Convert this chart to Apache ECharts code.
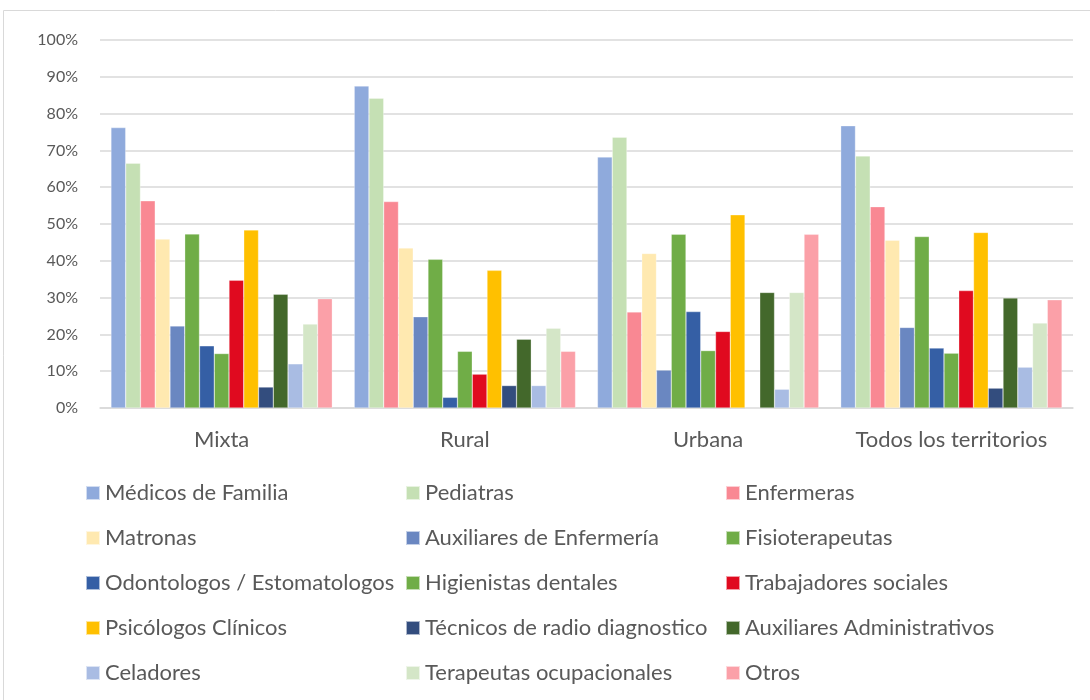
<!DOCTYPE html>
<html><head><meta charset="utf-8">
<script src="https://cdn.jsdelivr.net/npm/echarts@6/dist/echarts.min.js"></script>
<style>html,body{margin:0;padding:0;background:#fff}#c{width:1090px;height:700px}</style>
</head><body><div id="c"></div>
<script>
const categories = ['Mixta', 'Rural', 'Urbana', 'Todos los territorios'];
const seriesNames = ['Médicos de Familia','Pediatras','Enfermeras','Matronas','Auxiliares de Enfermería','Fisioterapeutas','Odontologos / Estomatologos','Higienistas dentales','Trabajadores sociales','Psicólogos Clínicos','Técnicos de radio diagnostico','Auxiliares Administrativos','Celadores','Terapeutas ocupacionales','Otros'];
const medicos      = [76.2, 87.5, 68.2, 76.7];
const pediatras    = [66.5, 84.2, 73.6, 68.5];
const enfermeras   = [56.3, 56.1, 26.1, 54.7];
const matronas     = [45.9, 43.5, 42.0, 45.6];
const auxEnf       = [22.3, 24.8, 10.3, 21.9];
const fisio        = [47.3, 40.4, 47.2, 46.6];
const odonto       = [16.9, 2.9, 26.2, 16.3];
const higienistas  = [14.8, 15.4, 15.6, 14.9];
const trabajadores = [34.7, 9.2, 20.8, 31.9];
const psicologos   = [48.4, 37.4, 52.5, 47.7];
const tecnicos     = [5.7, 6.1, 0, 5.4];
const auxAdmin     = [30.9, 18.7, 31.4, 29.9];
const celadores    = [12.0, 6.1, 5.1, 11.1];
const terapeutas   = [22.8, 21.7, 31.4, 23.1];
const otros        = [29.7, 15.4, 47.2, 29.4];
const yTicks = [0,10,20,30,40,50,60,70,80,90,100];

const values = [medicos,pediatras,enfermeras,matronas,auxEnf,fisio,odonto,higienistas,trabajadores,psicologos,tecnicos,auxAdmin,celadores,terapeutas,otros];
const colors = ['#8FAADC','#C5E0B4','#F98893','#FFE9B0','#6A87C1','#70AD47','#355FA5','#70AD47','#E00A1F','#FFC000','#334D7E','#43682B','#A9BCE3','#D4E6C7','#FBA0A8'];

const font = 'Lato, "Open Sans", sans-serif';
const chart = echarts.init(document.getElementById('c'));
const legendCol = (i, left) => ({
  orient: 'vertical', left: left, top: 477, itemGap: 23, itemWidth: 14, itemHeight: 14,
  icon: 'rect', data: [0,1,2,3,4].map(r => seriesNames[r*3+i]),
  textStyle: {color: '#595959', fontSize: 22, lineHeight: 22, fontFamily: font, padding: [0,0,0,0]}
});
chart.setOption({
  animation: false,
  textStyle: {fontFamily: font},
  graphic: [{type: 'rect', shape: {x: 3.5, y: 10.5, width: 1100, height: 700}, style: {fill: 'none', stroke: '#D9D9D9', lineWidth: 1}}],
  grid: {left: 100, right: 17, top: 40, bottom: 292},
  legend: [legendCol(0, 80), legendCol(1, 400), legendCol(2, 720)],
  xAxis: {type: 'category', data: categories,
    axisLine: {lineStyle: {color: '#D9D9D9', width: 1.5}}, axisTick: {show: false},
    axisLabel: {color: '#595959', fontSize: 22, margin: 21, interval: 0, fontFamily: font}},
  yAxis: {type: 'value', min: yTicks[0], max: yTicks[yTicks.length-1], interval: 10,
    axisLabel: {formatter: '{value}%', color: '#595959', fontSize: 16, margin: 22, fontFamily: font},
    splitLine: {lineStyle: {color: '#D9D9D9', width: 1.5}}, axisLine: {show: false}, axisTick: {show: false}},
  series: values.map((v, i) => ({
    name: seriesNames[i], type: 'bar', data: v, barGap: '0%', barCategoryGap: '9%',
    itemStyle: {color: colors[i], borderColor: 'rgba(255,255,255,0.6)', borderWidth: 0.5}
  }))
});
</script></body></html>
